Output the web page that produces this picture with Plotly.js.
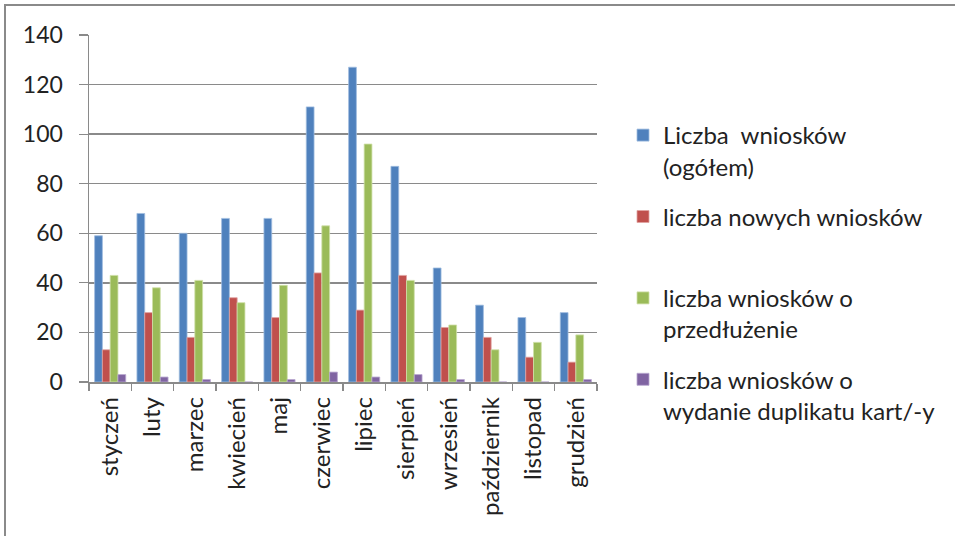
<!DOCTYPE html>
<html>
<head>
<meta charset="utf-8">
<script src="https://cdn.plot.ly/plotly-3.0.1.min.js"></script>
<style>
  html, body { margin: 0; padding: 0; background: #ffffff; }
  #chart { width: 955px; height: 536px; }
</style>
</head>
<body>
<div id="chart"></div>
<script>
const months = ['styczeń','luty','marzec','kwiecień','maj','czerwiec','lipiec','sierpień','wrzesień','październik','listopad','grudzień'];
const totalApps = [59, 68, 60, 66, 66, 111, 127, 87, 46, 31, 26, 28];
const newApps = [13, 28, 18, 34, 26, 44, 29, 43, 22, 18, 10, 8];
const extensionApps = [43, 38, 41, 32, 39, 63, 96, 41, 23, 13, 16, 19];
const duplicateApps = [3, 2, 1, 0, 1, 4, 2, 3, 1, 0, 0, 1];
const seriesNames = [
  'Liczba  wniosków<br>(ogółem)',
  'liczba nowych wniosków<br> ',
  'liczba wniosków o<br>przedłużenie',
  'liczba wniosków o<br>wydanie duplikatu kart/-y'
];
const seriesValues = [totalApps, newApps, extensionApps, duplicateApps];
const colors = ['#4F81BD', '#C0504D', '#9BBB59', '#8064A2'];
const edgeColors = ['#9fbde0', '#e0a3a1', '#cfe0a8', '#b9a7cf'];

const FONT = 'Lato, "Open Sans", "Noto Sans", sans-serif';

const traces = seriesValues.map((vals, i) => ({
  type: 'bar',
  x: months,
  y: vals,
  name: seriesNames[i],
  legendgroup: 'g' + i,
  marker: { color: colors[i], line: { color: edgeColors[i], width: 0.8 } },
  hoverinfo: 'x+y'
}));

// plot area in pixels: x 89..597, y 35..382
const L = 89, R = 597, T = 35, B = 382;
const pw = R - L, ph = B - T;
const px = v => (v - L) / pw;
const py = v => (B - v) / ph;

const layout = {
  width: 955,
  height: 536,
  margin: { l: L, r: 955 - R, t: T, b: 536 - B, pad: 0 },
  paper_bgcolor: '#ffffff',
  plot_bgcolor: '#ffffff',
  font: { family: FONT, color: '#222222', size: 20 },
  barmode: 'group',
  bargap: 0.265,
  bargroupgap: 0,
  showlegend: true,
  legend: {
    x: px(623),
    y: py(113),
    xanchor: 'left',
    yanchor: 'top',
    valign: 'top',
    font: { family: FONT, size: 24, color: '#222222' },
    tracegroupgap: 16,
    bgcolor: 'rgba(0,0,0,0)'
  },
  xaxis: {
    type: 'category',
    tickangle: -90,
    tickfont: { family: FONT, size: 24, color: '#222222' },
    ticks: 'outside',
    tickson: 'boundaries',
    ticklen: 7,
    tickcolor: '#8a8a8a',
    tickwidth: 1.2,
    showline: true,
    linecolor: '#8a8a8a',
    linewidth: 1.5,
    showgrid: false,
    ticklabelstandoff: 4,
    fixedrange: true
  },
  yaxis: {
    range: [0, 140],
    dtick: 20,
    tickfont: { family: FONT, size: 23, color: '#222222' },
    ticks: 'outside',
    ticklen: 9,
    tickcolor: '#8a8a8a',
    tickwidth: 1.2,
    showline: true,
    linecolor: '#8a8a8a',
    linewidth: 1.5,
    showgrid: true,
    gridcolor: '#8a8a8a',
    gridwidth: 1.5,
    zeroline: false,
    ticklabelstandoff: 11,
    fixedrange: true
  },
  shapes: [
    { type: 'line', xref: 'paper', yref: 'paper', x0: px(5), x1: px(5), y0: py(4), y1: py(540),
      line: { color: '#8a8a8a', width: 2 } },
    { type: 'line', xref: 'paper', yref: 'paper', x0: px(4), x1: px(960), y0: py(5), y1: py(5),
      line: { color: '#8a8a8a', width: 2 } }
  ]
};

Plotly.newPlot('chart', traces, layout, { displayModeBar: false, staticPlot: true });
</script>
</body>
</html>
